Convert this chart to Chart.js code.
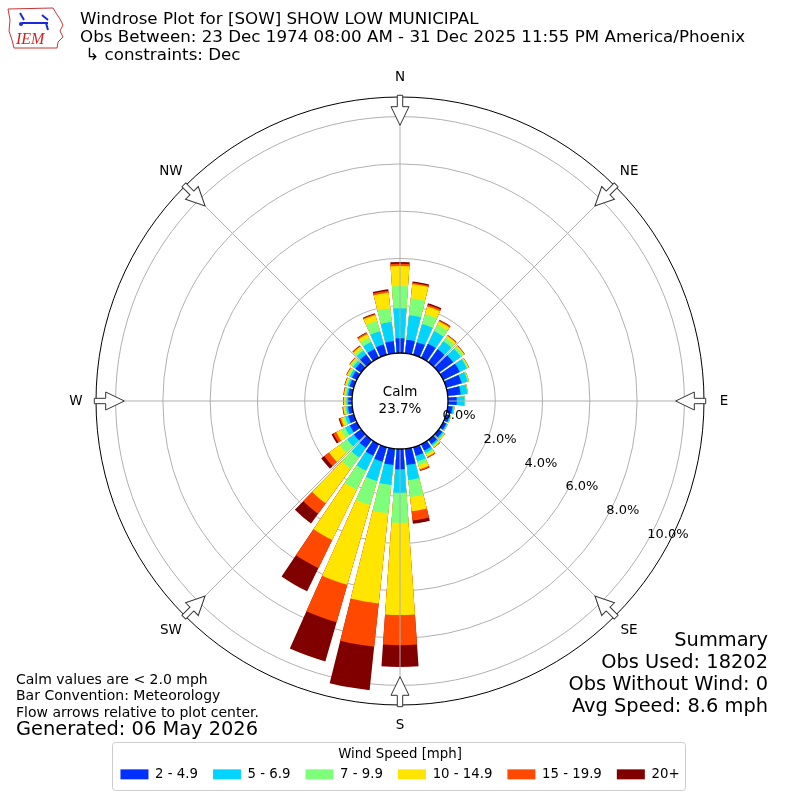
<!DOCTYPE html>
<html>
<head>
<meta charset="utf-8">
<script src="https://cdn.jsdelivr.net/npm/chart.js@4.4.1/dist/chart.umd.min.js"></script>
<style>
  html, body { margin: 0; padding: 0; background: #fff; }
  canvas { display: block; }
</style>
</head>
<body>
<canvas id="rose" width="800" height="800"></canvas>
<script>
// wind directions (degrees, meteorological, bar centres)
const DIRECTIONS = [0, 10, 20, 30, 40, 50, 60, 70, 80, 90, 100, 110, 120, 130, 140, 150, 160, 170,
                    180, 190, 200, 210, 220, 230, 240, 250, 260, 270, 280, 290, 300, 310, 320, 330, 340, 350];
const SPEED_BINS = ['2 - 4.9', '5 - 6.9', '7 - 9.9', '10 - 14.9', '15 - 19.9', '20+'];

// frequency (%) per direction for each speed bin
const SPEED_2_5   = [0.62, 0.58, 0.56, 0.67, 0.68, 0.75, 0.78, 0.68, 0.55, 0.37, 0.20, 0.15, 0.15, 0.18, 0.22, 0.30, 0.38, 0.69,
                     0.86, 0.69, 0.64, 0.55, 0.42, 0.38, 0.33, 0.25, 0.18, 0.16, 0.17, 0.19, 0.23, 0.30, 0.40, 0.42, 0.46, 0.52];
const SPEED_5_7   = [1.27, 1.04, 0.80, 0.59, 0.42, 0.40, 0.34, 0.27, 0.28, 0.33, 0.06, 0.05, 0.05, 0.07, 0.08, 0.12, 0.25, 0.64,
                     0.99, 0.85, 0.85, 0.70, 0.50, 0.35, 0.22, 0.12, 0.08, 0.07, 0.07, 0.08, 0.10, 0.12, 0.20, 0.33, 0.58, 0.81];
const SPEED_7_10  = [0.94, 0.72, 0.44, 0.30, 0.18, 0.12, 0.06, 0.04, 0.02, 0.02, 0.02, 0.01, 0.01, 0.04, 0.05, 0.08, 0.17, 0.72,
                     1.27, 1.21, 1.06, 0.90, 0.60, 0.40, 0.20, 0.10, 0.06, 0.06, 0.06, 0.07, 0.08, 0.10, 0.12, 0.20, 0.45, 0.58];
const SPEED_10_15 = [0.85, 0.60, 0.33, 0.16, 0.10, 0.06, 0.03, 0.02, 0.01, 0.00, 0.01, 0.01, 0.01, 0.03, 0.05, 0.10, 0.17, 0.61,
                     3.90, 3.83, 3.51, 2.36, 1.80, 0.55, 0.22, 0.10, 0.06, 0.05, 0.05, 0.05, 0.06, 0.07, 0.10, 0.17, 0.26, 0.67];
const SPEED_15_20 = [0.10, 0.06, 0.08, 0.05, 0.03, 0.02, 0.01, 0.00, 0.00, 0.00, 0.00, 0.00, 0.00, 0.01, 0.01, 0.04, 0.06, 0.39,
                     1.28, 1.84, 1.65, 1.33, 0.54, 0.25, 0.14, 0.06, 0.03, 0.02, 0.02, 0.02, 0.02, 0.02, 0.03, 0.06, 0.05, 0.08];
const SPEED_20_UP = [0.07, 0.05, 0.06, 0.02, 0.01, 0.01, 0.00, 0.00, 0.00, 0.00, 0.00, 0.00, 0.00, 0.00, 0.01, 0.01, 0.02, 0.14,
                     0.92, 1.85, 1.72, 1.09, 0.51, 0.16, 0.08, 0.04, 0.01, 0.01, 0.01, 0.01, 0.01, 0.01, 0.02, 0.03, 0.03, 0.06];

const RING_TICKS = [0, 2, 4, 6, 8, 10];
const COMPASS = ['N', 'NE', 'E', 'SE', 'S', 'SW', 'W', 'NW'];
const CALM_PCT = 23.7;

const TITLE_LINES = [
    'Windrose Plot for [SOW] SHOW LOW MUNICIPAL',
    'Obs Between: 23 Dec 1974 08:00 AM - 31 Dec 2025 11:55 PM America/Phoenix',
    ' \u21b3 constraints: Dec'
];
const NOTE_LINES = ['Calm values are < 2.0 mph', 'Bar Convention: Meteorology', 'Flow arrows relative to plot center.'];
const GENERATED = 'Generated: 06 May 2026';
const SUMMARY_LINES = ['Summary', 'Obs Used: 18202', 'Obs Without Wind: 0', 'Avg Speed: 8.6 mph'];

const COLORS = ['#0030ff', '#00d4ff', '#7dff7a', '#ffe500', '#ff4800', '#800000'];
const FONT = 'DejaVu Sans';
const BAR_DEG = 8;
const GAP_DEG = 2;
const R_MIN = -2.03;
const R_MAX = 10.83;

Chart.defaults.font.family = FONT;
Chart.defaults.color = '#000';

// stack the bins: each dataset is the running total, smallest drawn on top
const BINS = [SPEED_2_5, SPEED_5_7, SPEED_7_10, SPEED_10_15, SPEED_15_20, SPEED_20_UP];
const labels = [];
DIRECTIONS.forEach(d => { labels.push(d + '\u00b0', ''); });
let running = DIRECTIONS.map(() => 0);
const datasets = BINS.map((bin, k) => {
    running = running.map((v, i) => v + bin[i]);
    const data = [];
    running.forEach(v => { data.push(v, 0); });
    return {
        label: SPEED_BINS[k],
        data: data,
        backgroundColor: ctx => (ctx.dataIndex % 2 ? 'rgba(0,0,0,0)' : COLORS[k]),
        borderWidth: 0,
        angle: ctx => (ctx.dataIndex % 2 ? GAP_DEG : BAR_DEG)
    };
});

const decorPlugin = {
    id: 'decor',
    afterDraw(chart) {
        const ctx = chart.ctx;
        const r = chart.scales.r;
        const cx = r.xCenter, cy = r.yCenter;
        const rad = v => r.getDistanceFromCenterForValue(v);
        const pt = (deg, dist) => {
            const a = deg * Math.PI / 180;
            return [cx + dist * Math.sin(a), cy - dist * Math.cos(a)];
        };
        const r0 = rad(0), rOut = rad(R_MAX);

        ctx.save();
        // angle lines every 45 degrees
        ctx.strokeStyle = '#b0b0b0';
        ctx.lineWidth = 1;
        for (let k = 0; k < 8; k++) {
            const [x1, y1] = pt(k * 45, r0);
            const [x2, y2] = pt(k * 45, rOut);
            ctx.beginPath();
            ctx.moveTo(x1, y1);
            ctx.lineTo(x2, y2);
            ctx.stroke();
        }

        // calm circle
        ctx.beginPath();
        ctx.arc(cx, cy, r0, 0, Math.PI * 2);
        ctx.fillStyle = '#fff';
        ctx.fill();
        ctx.strokeStyle = '#000';
        ctx.lineWidth = 1.3;
        ctx.stroke();

        ctx.fillStyle = '#000';
        ctx.textAlign = 'center';
        ctx.textBaseline = 'middle';
        ctx.font = '13.5px ' + FONT;
        ctx.fillText('Calm', cx, cy - 9);
        ctx.fillText(CALM_PCT.toFixed(1) + '%', cx, cy + 8);

        // hollow flow arrows pointing to the centre
        for (let k = 0; k < 8; k++) {
            ctx.save();
            ctx.translate(cx, cy);
            ctx.rotate(k * Math.PI / 4);
            const top = -(rOut + 1.7), neck = -(rOut - 9.7), tip = -(rOut - 28.3);
            ctx.beginPath();
            ctx.moveTo(-2.7, top);
            ctx.lineTo(2.7, top);
            ctx.lineTo(2.7, neck);
            ctx.lineTo(9, neck);
            ctx.lineTo(0, tip);
            ctx.lineTo(-9, neck);
            ctx.lineTo(-2.7, neck);
            ctx.closePath();
            ctx.fillStyle = '#fff';
            ctx.fill();
            ctx.strokeStyle = '#333';
            ctx.lineWidth = 1;
            ctx.stroke();
            ctx.restore();
        }

        // compass labels
        ctx.fillStyle = '#000';
        ctx.font = '13.5px ' + FONT;
        ctx.textAlign = 'center';
        ctx.textBaseline = 'middle';
        COMPASS.forEach((c, k) => {
            const [x, y] = pt(k * 45, rOut + 20);
            ctx.fillText(c, x, y);
        });

        // ring labels
        ctx.textAlign = 'left';
        ctx.font = '13px ' + FONT;
        RING_TICKS.forEach(v => {
            const [x, y] = pt(120, rad(v));
            ctx.fillText(v.toFixed(1) + '%', x + 1, y - 9);
        });

        // title
        ctx.font = '16.7px ' + FONT;
        TITLE_LINES.forEach((t, i) => ctx.fillText(t, 80, 20 + i * 18));

        // notes bottom left
        ctx.font = '14px ' + FONT;
        NOTE_LINES.forEach((t, i) => ctx.fillText(t, 16, 680 + i * 16.5));
        ctx.font = '19.4px ' + FONT;
        ctx.fillText(GENERATED, 16, 730);

        // summary bottom right
        ctx.textAlign = 'right';
        SUMMARY_LINES.forEach((t, i) => ctx.fillText(t, 768, 641 + i * 22));

        // IEM logo (rough)
        ctx.strokeStyle = '#cc3333';
        ctx.lineWidth = 1;
        ctx.beginPath();
        const outline = [[8, 9], [53, 8], [56, 13], [60, 19], [63, 25], [60, 31], [63, 37], [58, 42], [57, 48],
                         [14, 48], [12, 40], [9, 31], [10, 20]];
        outline.forEach(([x, y], i) => (i ? ctx.lineTo(x, y) : ctx.moveTo(x, y)));
        ctx.closePath();
        ctx.stroke();
        ctx.strokeStyle = '#1a2ad8';
        ctx.lineWidth = 2;
        ctx.beginPath();
        ctx.moveTo(22, 23); ctx.lineTo(48, 23);
        ctx.moveTo(20, 13); ctx.lineTo(24, 20);
        ctx.moveTo(42, 15); ctx.lineTo(48, 20);
        ctx.moveTo(46, 23); ctx.lineTo(48, 30);
        ctx.stroke();
        ctx.fillStyle = '#1a2ad8';
        ctx.beginPath();
        ctx.arc(21, 24, 2, 0, Math.PI * 2);
        ctx.fill();
        ctx.fillStyle = '#d42020';
        ctx.font = 'italic 16px "Liberation Serif"';
        ctx.textAlign = 'left';
        ctx.fillText('IEM', 16, 40);

        // legend frame
        const lg = chart.legend;
        if (lg && lg.legendHitBoxes.length) {
            const left = Math.min(...lg.legendHitBoxes.map(h => h.left)) - 8;
            const right = Math.max(...lg.legendHitBoxes.map(h => h.left + h.width)) + 6;
            ctx.strokeStyle = '#cccccc';
            ctx.lineWidth = 1;
            ctx.beginPath();
            ctx.roundRect(Math.round(left) + 0.5, Math.round(lg.top) + 5.5, Math.round(right - left),
                          Math.round(lg.bottom - lg.top) - 6, 3);
            ctx.stroke();
        }
        ctx.restore();
    }
};

new Chart(document.getElementById('rose'), {
    type: 'polarArea',
    data: { labels: labels, datasets: datasets },
    options: {
        responsive: false,
        devicePixelRatio: 1,
        animation: false,
        events: [],
        layout: { padding: { top: 65, left: 96, right: 96, bottom: 9 } },
        scales: {
            r: {
                min: R_MIN,
                max: R_MAX,
                startAngle: -BAR_DEG / 2,
                z: 1,
                ticks: { display: false },
                afterBuildTicks: scale => {
                    scale.ticks = RING_TICKS.concat([R_MAX]).map(v => ({ value: v }));
                },
                grid: {
                    circular: true,
                    color: ctx => {
                        const v = ctx.tick ? ctx.tick.value : null;
                        if (v === R_MAX) return '#000000';
                        if (v === 0) return 'rgba(0,0,0,0)';
                        return '#b0b0b0';
                    },
                    lineWidth: 1
                },
                angleLines: { display: false },
                pointLabels: { display: false }
            }
        },
        plugins: {
            tooltip: { enabled: false },
            legend: {
                position: 'bottom',
                title: {
                    display: true,
                    text: 'Wind Speed [mph]',
                    color: '#000',
                    font: { family: FONT, size: 13.3, lineHeight: 0.35 },
                    padding: { top: 11, bottom: 0 }
                },
                labels: {
                    boxWidth: 28,
                    boxHeight: 10,
                    padding: 15,
                    color: '#000',
                    font: { family: FONT, size: 13.3 },
                    generateLabels: chart => chart.data.datasets.map((ds, i) => ({
                        text: ds.label,
                        fillStyle: COLORS[i],
                        strokeStyle: COLORS[i],
                        lineWidth: 0,
                        hidden: false,
                        datasetIndex: i
                    }))
                }
            }
        }
    },
    plugins: [decorPlugin]
});
</script>
</body>
</html>
